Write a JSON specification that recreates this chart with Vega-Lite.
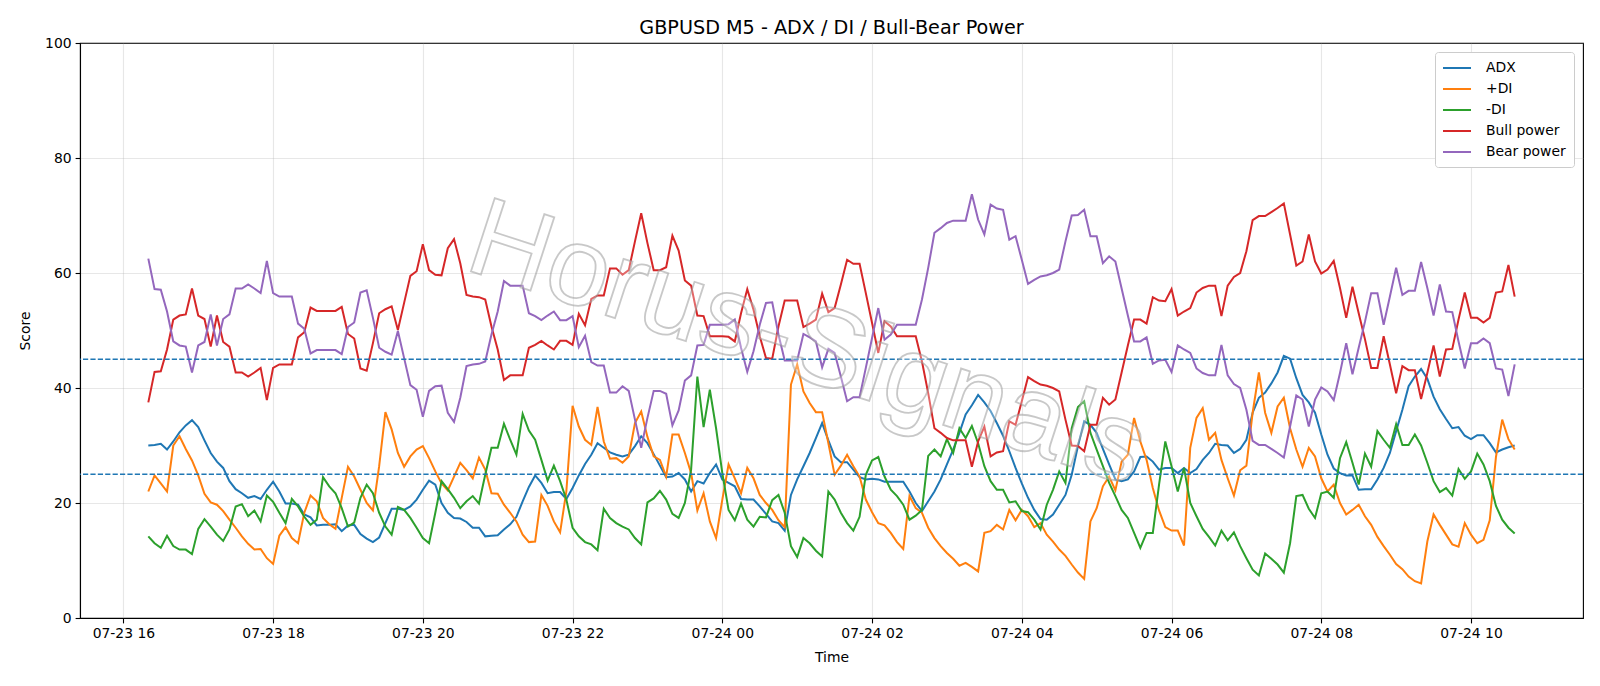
{
  "$schema": "https://vega.github.io/schema/vega-lite/v6.json",
  "width": 1503,
  "height": 575,
  "autosize": {"type": "none"},
  "padding": {"left": 80, "top": 43, "right": 17, "bottom": 68},
  "background": "white",
  "title": {"text": "GBPUSD M5 - ADX / DI / Bull-Bear Power", "font": "DejaVu Sans", "fontSize": 19.2, "fontWeight": "normal", "color": "black", "offset": -2},
  "config": {
    "view": {"stroke": "black", "strokeWidth": 1.1},
    "axis": {"labelFont": "DejaVu Sans", "titleFont": "DejaVu Sans", "labelFontSize": 13.9, "titleFontSize": 13.9, "titleFontWeight": "normal", "labelColor": "black", "titleColor": "black", "tickColor": "black", "domainColor": "black", "tickSize": 4.9, "tickWidth": 1.1, "domainWidth": 1.1, "gridColor": "#b0b0b0", "gridOpacity": 0.3, "gridWidth": 1.1}
  },
  "data": {"format": {"parse": {"t": "utc:'%Y-%m-%dT%H:%M'"}}, "values": [
{"t":"2025-07-23T16:20","ADX":30.0,"PDI":22.0,"MDI":14.2,"Bull":37.5,"Bear":62.5},
{"t":"2025-07-23T16:25","ADX":30.1,"PDI":24.8,"MDI":13.0,"Bull":42.8,"Bear":57.2},
{"t":"2025-07-23T16:30","ADX":30.3,"PDI":23.4,"MDI":12.2,"Bull":42.9,"Bear":57.1},
{"t":"2025-07-23T16:35","ADX":29.3,"PDI":22.0,"MDI":14.3,"Bull":46.7,"Bear":53.3},
{"t":"2025-07-23T16:40","ADX":30.7,"PDI":30.0,"MDI":12.5,"Bull":51.9,"Bear":48.1},
{"t":"2025-07-23T16:45","ADX":32.3,"PDI":31.6,"MDI":11.9,"Bull":52.6,"Bear":47.4},
{"t":"2025-07-23T16:50","ADX":33.5,"PDI":29.4,"MDI":11.9,"Bull":52.8,"Bear":47.2},
{"t":"2025-07-23T16:55","ADX":34.4,"PDI":27.4,"MDI":11.1,"Bull":57.3,"Bear":42.7},
{"t":"2025-07-23T17:00","ADX":33.2,"PDI":24.8,"MDI":15.5,"Bull":52.6,"Bear":47.4},
{"t":"2025-07-23T17:05","ADX":30.9,"PDI":21.6,"MDI":17.2,"Bull":52.0,"Bear":48.0},
{"t":"2025-07-23T17:10","ADX":28.7,"PDI":20.1,"MDI":15.9,"Bull":47.2,"Bear":52.8},
{"t":"2025-07-23T17:15","ADX":27.2,"PDI":19.7,"MDI":14.5,"Bull":52.6,"Bear":47.4},
{"t":"2025-07-23T17:20","ADX":26.1,"PDI":18.6,"MDI":13.4,"Bull":48.0,"Bear":52.0},
{"t":"2025-07-23T17:25","ADX":23.8,"PDI":17.1,"MDI":15.4,"Bull":47.2,"Bear":52.8},
{"t":"2025-07-23T17:30","ADX":22.4,"PDI":15.7,"MDI":19.4,"Bull":42.7,"Bear":57.3},
{"t":"2025-07-23T17:35","ADX":21.7,"PDI":14.2,"MDI":19.8,"Bull":42.7,"Bear":57.3},
{"t":"2025-07-23T17:40","ADX":20.9,"PDI":12.9,"MDI":17.7,"Bull":42.0,"Bear":58.0},
{"t":"2025-07-23T17:45","ADX":21.2,"PDI":11.9,"MDI":18.7,"Bull":42.7,"Bear":57.3},
{"t":"2025-07-23T17:50","ADX":20.7,"PDI":12.0,"MDI":16.8,"Bull":43.5,"Bear":56.5},
{"t":"2025-07-23T17:55","ADX":22.3,"PDI":10.4,"MDI":21.3,"Bull":37.9,"Bear":62.1},
{"t":"2025-07-23T18:00","ADX":23.7,"PDI":9.4,"MDI":20.2,"Bull":43.5,"Bear":56.5},
{"t":"2025-07-23T18:05","ADX":22.0,"PDI":14.3,"MDI":18.3,"Bull":44.1,"Bear":55.9},
{"t":"2025-07-23T18:10","ADX":19.9,"PDI":15.8,"MDI":16.5,"Bull":44.1,"Bear":55.9},
{"t":"2025-07-23T18:15","ADX":19.9,"PDI":13.9,"MDI":20.7,"Bull":44.1,"Bear":55.9},
{"t":"2025-07-23T18:20","ADX":19.7,"PDI":13.0,"MDI":19.4,"Bull":48.8,"Bear":51.2},
{"t":"2025-07-23T18:25","ADX":18.0,"PDI":18.3,"MDI":17.6,"Bull":49.7,"Bear":50.3},
{"t":"2025-07-23T18:30","ADX":17.5,"PDI":21.3,"MDI":16.2,"Bull":54.0,"Bear":46.0},
{"t":"2025-07-23T18:35","ADX":16.1,"PDI":20.3,"MDI":17.1,"Bull":53.4,"Bear":46.6},
{"t":"2025-07-23T18:40","ADX":16.2,"PDI":17.4,"MDI":24.5,"Bull":53.4,"Bear":46.6},
{"t":"2025-07-23T18:45","ADX":16.2,"PDI":16.3,"MDI":22.9,"Bull":53.4,"Bear":46.6},
{"t":"2025-07-23T18:50","ADX":16.3,"PDI":15.5,"MDI":21.7,"Bull":53.4,"Bear":46.6},
{"t":"2025-07-23T18:55","ADX":15.1,"PDI":20.9,"MDI":19.1,"Bull":54.1,"Bear":45.9},
{"t":"2025-07-23T19:00","ADX":16.1,"PDI":26.3,"MDI":15.9,"Bull":49.4,"Bear":50.6},
{"t":"2025-07-23T19:05","ADX":16.2,"PDI":24.6,"MDI":16.6,"Bull":48.6,"Bear":51.4},
{"t":"2025-07-23T19:10","ADX":14.6,"PDI":22.3,"MDI":20.9,"Bull":43.4,"Bear":56.6},
{"t":"2025-07-23T19:15","ADX":13.8,"PDI":20.0,"MDI":23.2,"Bull":43.0,"Bear":57.0},
{"t":"2025-07-23T19:20","ADX":13.2,"PDI":18.7,"MDI":21.7,"Bull":47.8,"Bear":52.2},
{"t":"2025-07-23T19:25","ADX":14.0,"PDI":26.4,"MDI":18.3,"Bull":53.0,"Bear":47.0},
{"t":"2025-07-23T19:30","ADX":16.5,"PDI":35.8,"MDI":15.9,"Bull":53.7,"Bear":46.3},
{"t":"2025-07-23T19:35","ADX":19.0,"PDI":32.8,"MDI":14.5,"Bull":54.2,"Bear":45.8},
{"t":"2025-07-23T19:40","ADX":19.0,"PDI":28.7,"MDI":19.3,"Bull":50.1,"Bear":49.9},
{"t":"2025-07-23T19:45","ADX":18.8,"PDI":26.3,"MDI":18.8,"Bull":54.8,"Bear":45.2},
{"t":"2025-07-23T19:50","ADX":19.4,"PDI":28.1,"MDI":17.4,"Bull":59.5,"Bear":40.5},
{"t":"2025-07-23T19:55","ADX":20.6,"PDI":29.3,"MDI":15.7,"Bull":60.3,"Bear":39.7},
{"t":"2025-07-23T20:00","ADX":22.3,"PDI":29.9,"MDI":13.9,"Bull":65.0,"Bear":35.0},
{"t":"2025-07-23T20:05","ADX":23.9,"PDI":27.8,"MDI":13.0,"Bull":60.5,"Bear":39.5},
{"t":"2025-07-23T20:10","ADX":23.2,"PDI":25.5,"MDI":18.3,"Bull":59.7,"Bear":40.3},
{"t":"2025-07-23T20:15","ADX":20.0,"PDI":23.4,"MDI":23.8,"Bull":59.6,"Bear":40.4},
{"t":"2025-07-23T20:20","ADX":18.3,"PDI":22.2,"MDI":22.4,"Bull":64.3,"Bear":35.7},
{"t":"2025-07-23T20:25","ADX":17.4,"PDI":24.6,"MDI":20.9,"Bull":65.9,"Bear":34.1},
{"t":"2025-07-23T20:30","ADX":17.3,"PDI":27.0,"MDI":19.1,"Bull":61.7,"Bear":38.3},
{"t":"2025-07-23T20:35","ADX":16.7,"PDI":25.7,"MDI":20.3,"Bull":56.2,"Bear":43.8},
{"t":"2025-07-23T20:40","ADX":15.7,"PDI":24.3,"MDI":21.2,"Bull":55.9,"Bear":44.1},
{"t":"2025-07-23T20:45","ADX":15.7,"PDI":27.9,"MDI":19.9,"Bull":55.8,"Bear":44.2},
{"t":"2025-07-23T20:50","ADX":14.2,"PDI":25.8,"MDI":24.9,"Bull":55.4,"Bear":44.6},
{"t":"2025-07-23T20:55","ADX":14.3,"PDI":21.7,"MDI":29.6,"Bull":50.7,"Bear":49.3},
{"t":"2025-07-23T21:00","ADX":14.4,"PDI":21.6,"MDI":29.6,"Bull":46.7,"Bear":53.3},
{"t":"2025-07-23T21:05","ADX":15.4,"PDI":19.7,"MDI":33.8,"Bull":41.4,"Bear":58.6},
{"t":"2025-07-23T21:10","ADX":16.3,"PDI":18.3,"MDI":31.0,"Bull":42.2,"Bear":57.8},
{"t":"2025-07-23T21:15","ADX":17.6,"PDI":16.8,"MDI":28.4,"Bull":42.2,"Bear":57.8},
{"t":"2025-07-23T21:20","ADX":20.3,"PDI":14.5,"MDI":35.5,"Bull":42.2,"Bear":57.8},
{"t":"2025-07-23T21:25","ADX":22.8,"PDI":13.2,"MDI":32.6,"Bull":47.0,"Bear":53.0},
{"t":"2025-07-23T21:30","ADX":24.8,"PDI":13.3,"MDI":31.0,"Bull":47.5,"Bear":52.5},
{"t":"2025-07-23T21:35","ADX":23.5,"PDI":21.4,"MDI":27.5,"Bull":48.2,"Bear":51.8},
{"t":"2025-07-23T21:40","ADX":21.7,"PDI":19.5,"MDI":23.9,"Bull":47.4,"Bear":52.6},
{"t":"2025-07-23T21:45","ADX":21.9,"PDI":16.8,"MDI":26.5,"Bull":46.7,"Bear":53.3},
{"t":"2025-07-23T21:50","ADX":21.9,"PDI":14.9,"MDI":23.8,"Bull":48.2,"Bear":51.8},
{"t":"2025-07-23T21:55","ADX":20.7,"PDI":22.0,"MDI":20.6,"Bull":48.2,"Bear":51.8},
{"t":"2025-07-23T22:00","ADX":22.6,"PDI":36.9,"MDI":15.7,"Bull":47.5,"Bear":52.5},
{"t":"2025-07-23T22:05","ADX":24.8,"PDI":33.3,"MDI":14.2,"Bull":52.9,"Bear":47.1},
{"t":"2025-07-23T22:10","ADX":26.8,"PDI":31.0,"MDI":13.2,"Bull":50.9,"Bear":49.1},
{"t":"2025-07-23T22:15","ADX":28.4,"PDI":30.1,"MDI":12.8,"Bull":55.5,"Bear":44.5},
{"t":"2025-07-23T22:20","ADX":30.4,"PDI":36.7,"MDI":11.8,"Bull":56.1,"Bear":43.9},
{"t":"2025-07-23T22:25","ADX":29.6,"PDI":30.7,"MDI":19.0,"Bull":56.1,"Bear":43.9},
{"t":"2025-07-23T22:30","ADX":28.8,"PDI":27.7,"MDI":17.4,"Bull":60.8,"Bear":39.2},
{"t":"2025-07-23T22:35","ADX":28.4,"PDI":27.8,"MDI":16.5,"Bull":60.8,"Bear":39.2},
{"t":"2025-07-23T22:40","ADX":28.1,"PDI":27.0,"MDI":15.9,"Bull":59.7,"Bear":40.3},
{"t":"2025-07-23T22:45","ADX":28.4,"PDI":28.1,"MDI":15.4,"Bull":60.5,"Bear":39.5},
{"t":"2025-07-23T22:50","ADX":29.9,"PDI":33.9,"MDI":13.9,"Bull":65.5,"Bear":34.5},
{"t":"2025-07-23T22:55","ADX":31.6,"PDI":35.9,"MDI":12.8,"Bull":70.4,"Bear":29.6},
{"t":"2025-07-23T23:00","ADX":30.4,"PDI":31.5,"MDI":20.1,"Bull":65.2,"Bear":34.8},
{"t":"2025-07-23T23:05","ADX":28.5,"PDI":28.1,"MDI":20.8,"Bull":60.5,"Bear":39.5},
{"t":"2025-07-23T23:10","ADX":26.5,"PDI":27.5,"MDI":22.1,"Bull":60.5,"Bear":39.5},
{"t":"2025-07-23T23:15","ADX":24.5,"PDI":24.6,"MDI":20.6,"Bull":61.0,"Bear":39.0},
{"t":"2025-07-23T23:20","ADX":24.6,"PDI":31.9,"MDI":18.1,"Bull":66.5,"Bear":33.5},
{"t":"2025-07-23T23:25","ADX":25.2,"PDI":31.9,"MDI":17.4,"Bull":63.9,"Bear":36.1},
{"t":"2025-07-23T23:30","ADX":24.1,"PDI":28.7,"MDI":20.0,"Bull":58.7,"Bear":41.3},
{"t":"2025-07-23T23:35","ADX":22.0,"PDI":25.2,"MDI":25.8,"Bull":57.8,"Bear":42.2},
{"t":"2025-07-23T23:40","ADX":23.8,"PDI":18.7,"MDI":42.0,"Bull":52.6,"Bear":47.4},
{"t":"2025-07-23T23:45","ADX":23.4,"PDI":21.7,"MDI":33.2,"Bull":52.5,"Bear":47.5},
{"t":"2025-07-23T23:50","ADX":25.2,"PDI":16.8,"MDI":39.7,"Bull":49.0,"Bear":51.0},
{"t":"2025-07-23T23:55","ADX":26.7,"PDI":13.9,"MDI":33.0,"Bull":49.0,"Bear":51.0},
{"t":"2025-07-24T00:00","ADX":24.1,"PDI":20.6,"MDI":25.2,"Bull":49.0,"Bear":51.0},
{"t":"2025-07-24T00:05","ADX":23.5,"PDI":26.7,"MDI":18.8,"Bull":48.9,"Bear":51.1},
{"t":"2025-07-24T00:10","ADX":22.9,"PDI":24.3,"MDI":17.0,"Bull":48.1,"Bear":51.9},
{"t":"2025-07-24T00:15","ADX":20.7,"PDI":21.7,"MDI":19.9,"Bull":53.0,"Bear":47.0},
{"t":"2025-07-24T00:20","ADX":20.6,"PDI":26.1,"MDI":17.1,"Bull":57.2,"Bear":42.8},
{"t":"2025-07-24T00:25","ADX":20.6,"PDI":24.3,"MDI":15.9,"Bull":53.6,"Bear":46.4},
{"t":"2025-07-24T00:30","ADX":19.4,"PDI":21.4,"MDI":17.6,"Bull":49.0,"Bear":51.0},
{"t":"2025-07-24T00:35","ADX":18.1,"PDI":20.0,"MDI":17.5,"Bull":45.2,"Bear":54.8},
{"t":"2025-07-24T00:40","ADX":16.8,"PDI":18.8,"MDI":20.5,"Bull":45.1,"Bear":54.9},
{"t":"2025-07-24T00:45","ADX":16.5,"PDI":17.0,"MDI":21.4,"Bull":50.7,"Bear":49.3},
{"t":"2025-07-24T00:50","ADX":15.2,"PDI":15.8,"MDI":18.3,"Bull":55.2,"Bear":44.8},
{"t":"2025-07-24T00:55","ADX":21.4,"PDI":40.6,"MDI":12.5,"Bull":55.2,"Bear":44.8},
{"t":"2025-07-24T01:00","ADX":24.1,"PDI":44.1,"MDI":10.6,"Bull":55.2,"Bear":44.8},
{"t":"2025-07-24T01:05","ADX":26.4,"PDI":39.4,"MDI":13.9,"Bull":50.6,"Bear":49.4},
{"t":"2025-07-24T01:10","ADX":28.7,"PDI":37.4,"MDI":13.0,"Bull":51.2,"Bear":48.8},
{"t":"2025-07-24T01:15","ADX":31.3,"PDI":35.8,"MDI":11.7,"Bull":51.9,"Bear":48.1},
{"t":"2025-07-24T01:20","ADX":33.9,"PDI":35.8,"MDI":10.7,"Bull":56.4,"Bear":43.6},
{"t":"2025-07-24T01:25","ADX":30.9,"PDI":30.4,"MDI":22.0,"Bull":53.2,"Bear":46.8},
{"t":"2025-07-24T01:30","ADX":28.1,"PDI":24.9,"MDI":20.6,"Bull":53.9,"Bear":46.1},
{"t":"2025-07-24T01:35","ADX":27.1,"PDI":26.5,"MDI":18.3,"Bull":58.0,"Bear":42.0},
{"t":"2025-07-24T01:40","ADX":27.1,"PDI":28.4,"MDI":16.5,"Bull":62.3,"Bear":37.7},
{"t":"2025-07-24T01:45","ADX":25.8,"PDI":26.4,"MDI":15.2,"Bull":61.6,"Bear":38.4},
{"t":"2025-07-24T01:50","ADX":24.5,"PDI":24.6,"MDI":17.6,"Bull":61.6,"Bear":38.4},
{"t":"2025-07-24T01:55","ADX":24.1,"PDI":20.6,"MDI":24.9,"Bull":56.5,"Bear":43.5},
{"t":"2025-07-24T02:00","ADX":24.2,"PDI":18.4,"MDI":27.4,"Bull":51.3,"Bear":48.7},
{"t":"2025-07-24T02:05","ADX":24.1,"PDI":16.5,"MDI":28.0,"Bull":46.1,"Bear":53.9},
{"t":"2025-07-24T02:10","ADX":23.7,"PDI":16.1,"MDI":24.6,"Bull":51.6,"Bear":48.4},
{"t":"2025-07-24T02:15","ADX":23.7,"PDI":14.8,"MDI":22.3,"Bull":50.7,"Bear":49.3},
{"t":"2025-07-24T02:20","ADX":23.7,"PDI":13.2,"MDI":21.2,"Bull":49.0,"Bear":51.0},
{"t":"2025-07-24T02:25","ADX":23.7,"PDI":12.0,"MDI":19.7,"Bull":49.0,"Bear":51.0},
{"t":"2025-07-24T02:30","ADX":22.0,"PDI":21.2,"MDI":17.1,"Bull":49.0,"Bear":51.0},
{"t":"2025-07-24T02:35","ADX":20.0,"PDI":19.1,"MDI":17.8,"Bull":49.0,"Bear":51.0},
{"t":"2025-07-24T02:40","ADX":18.6,"PDI":18.3,"MDI":18.8,"Bull":44.6,"Bear":55.4},
{"t":"2025-07-24T02:45","ADX":20.3,"PDI":15.7,"MDI":28.2,"Bull":39.1,"Bear":60.9},
{"t":"2025-07-24T02:50","ADX":22.0,"PDI":13.9,"MDI":29.3,"Bull":33.0,"Bear":67.0},
{"t":"2025-07-24T02:55","ADX":24.1,"PDI":12.5,"MDI":28.1,"Bull":32.2,"Bear":67.8},
{"t":"2025-07-24T03:00","ADX":26.7,"PDI":11.3,"MDI":31.1,"Bull":31.3,"Bear":68.7},
{"t":"2025-07-24T03:05","ADX":29.3,"PDI":10.3,"MDI":28.7,"Bull":30.9,"Bear":69.1},
{"t":"2025-07-24T03:10","ADX":32.2,"PDI":9.1,"MDI":33.0,"Bull":30.9,"Bear":69.1},
{"t":"2025-07-24T03:15","ADX":35.4,"PDI":9.6,"MDI":31.3,"Bull":30.9,"Bear":69.1},
{"t":"2025-07-24T03:20","ADX":37.0,"PDI":8.9,"MDI":33.4,"Bull":26.3,"Bear":73.7},
{"t":"2025-07-24T03:25","ADX":38.8,"PDI":8.1,"MDI":30.4,"Bull":30.7,"Bear":69.3},
{"t":"2025-07-24T03:30","ADX":37.5,"PDI":14.8,"MDI":26.4,"Bull":33.3,"Bear":66.7},
{"t":"2025-07-24T03:35","ADX":36.0,"PDI":15.1,"MDI":23.8,"Bull":28.1,"Bear":71.9},
{"t":"2025-07-24T03:40","ADX":33.9,"PDI":16.2,"MDI":22.3,"Bull":28.8,"Bear":71.2},
{"t":"2025-07-24T03:45","ADX":31.7,"PDI":15.4,"MDI":22.3,"Bull":29.0,"Bear":71.0},
{"t":"2025-07-24T03:50","ADX":29.0,"PDI":18.8,"MDI":20.1,"Bull":34.2,"Bear":65.8},
{"t":"2025-07-24T03:55","ADX":26.1,"PDI":17.0,"MDI":20.3,"Bull":33.6,"Bear":66.4},
{"t":"2025-07-24T04:00","ADX":23.4,"PDI":18.8,"MDI":18.6,"Bull":37.7,"Bear":62.3},
{"t":"2025-07-24T04:05","ADX":20.9,"PDI":17.7,"MDI":18.4,"Bull":41.9,"Bear":58.1},
{"t":"2025-07-24T04:10","ADX":18.8,"PDI":15.8,"MDI":17.1,"Bull":41.2,"Bear":58.8},
{"t":"2025-07-24T04:15","ADX":17.2,"PDI":16.5,"MDI":15.4,"Bull":40.6,"Bear":59.4},
{"t":"2025-07-24T04:20","ADX":17.1,"PDI":14.5,"MDI":19.7,"Bull":40.4,"Bear":59.6},
{"t":"2025-07-24T04:25","ADX":18.0,"PDI":13.3,"MDI":22.3,"Bull":40.0,"Bear":60.0},
{"t":"2025-07-24T04:30","ADX":19.7,"PDI":11.9,"MDI":25.5,"Bull":39.4,"Bear":60.6},
{"t":"2025-07-24T04:35","ADX":21.4,"PDI":10.8,"MDI":23.5,"Bull":34.5,"Bear":65.5},
{"t":"2025-07-24T04:40","ADX":24.9,"PDI":9.3,"MDI":33.0,"Bull":30.0,"Bear":70.0},
{"t":"2025-07-24T04:45","ADX":29.9,"PDI":7.9,"MDI":36.7,"Bull":29.9,"Bear":70.1},
{"t":"2025-07-24T04:50","ADX":34.2,"PDI":6.8,"MDI":37.7,"Bull":29.0,"Bear":71.0},
{"t":"2025-07-24T04:55","ADX":33.6,"PDI":16.8,"MDI":32.2,"Bull":33.6,"Bear":66.4},
{"t":"2025-07-24T05:00","ADX":32.2,"PDI":19.1,"MDI":29.3,"Bull":33.6,"Bear":66.4},
{"t":"2025-07-24T05:05","ADX":29.4,"PDI":22.9,"MDI":26.4,"Bull":38.3,"Bear":61.7},
{"t":"2025-07-24T05:10","ADX":26.7,"PDI":24.6,"MDI":23.5,"Bull":37.1,"Bear":62.9},
{"t":"2025-07-24T05:15","ADX":24.1,"PDI":22.2,"MDI":21.2,"Bull":38.0,"Bear":62.0},
{"t":"2025-07-24T05:20","ADX":23.8,"PDI":27.2,"MDI":18.8,"Bull":42.7,"Bear":57.3},
{"t":"2025-07-24T05:25","ADX":24.1,"PDI":28.4,"MDI":17.4,"Bull":47.4,"Bear":52.6},
{"t":"2025-07-24T05:30","ADX":25.5,"PDI":34.8,"MDI":14.8,"Bull":51.9,"Bear":48.1},
{"t":"2025-07-24T05:35","ADX":28.0,"PDI":30.7,"MDI":12.2,"Bull":51.9,"Bear":48.1},
{"t":"2025-07-24T05:40","ADX":28.1,"PDI":27.5,"MDI":14.8,"Bull":51.2,"Bear":48.8},
{"t":"2025-07-24T05:45","ADX":27.2,"PDI":22.6,"MDI":14.8,"Bull":55.8,"Bear":44.2},
{"t":"2025-07-24T05:50","ADX":25.8,"PDI":18.7,"MDI":23.2,"Bull":55.2,"Bear":44.8},
{"t":"2025-07-24T05:55","ADX":26.1,"PDI":15.8,"MDI":30.7,"Bull":55.1,"Bear":44.9},
{"t":"2025-07-24T06:00","ADX":26.1,"PDI":15.2,"MDI":26.4,"Bull":57.2,"Bear":42.8},
{"t":"2025-07-24T06:05","ADX":25.2,"PDI":15.2,"MDI":22.0,"Bull":52.6,"Bear":47.4},
{"t":"2025-07-24T06:10","ADX":26.1,"PDI":12.6,"MDI":26.1,"Bull":53.3,"Bear":46.7},
{"t":"2025-07-24T06:15","ADX":25.2,"PDI":29.6,"MDI":20.0,"Bull":53.9,"Bear":46.1},
{"t":"2025-07-24T06:20","ADX":25.9,"PDI":34.8,"MDI":17.7,"Bull":56.6,"Bear":43.4},
{"t":"2025-07-24T06:25","ADX":27.5,"PDI":36.5,"MDI":15.5,"Bull":57.4,"Bear":42.6},
{"t":"2025-07-24T06:30","ADX":28.7,"PDI":31.0,"MDI":14.1,"Bull":57.8,"Bear":42.2},
{"t":"2025-07-24T06:35","ADX":30.3,"PDI":32.2,"MDI":12.6,"Bull":57.8,"Bear":42.2},
{"t":"2025-07-24T06:40","ADX":30.1,"PDI":27.5,"MDI":15.2,"Bull":52.5,"Bear":47.5},
{"t":"2025-07-24T06:45","ADX":30.0,"PDI":24.3,"MDI":13.5,"Bull":57.8,"Bear":42.2},
{"t":"2025-07-24T06:50","ADX":28.7,"PDI":21.3,"MDI":14.9,"Bull":59.3,"Bear":40.7},
{"t":"2025-07-24T06:55","ADX":29.4,"PDI":25.7,"MDI":12.5,"Bull":60.0,"Bear":40.0},
{"t":"2025-07-24T07:00","ADX":31.0,"PDI":26.5,"MDI":10.4,"Bull":63.8,"Bear":36.2},
{"t":"2025-07-24T07:05","ADX":35.7,"PDI":35.7,"MDI":8.4,"Bull":69.2,"Bear":30.8},
{"t":"2025-07-24T07:10","ADX":38.3,"PDI":42.7,"MDI":7.4,"Bull":69.9,"Bear":30.1},
{"t":"2025-07-24T07:15","ADX":39.2,"PDI":35.7,"MDI":11.2,"Bull":69.9,"Bear":30.1},
{"t":"2025-07-24T07:20","ADX":40.8,"PDI":32.2,"MDI":10.3,"Bull":70.6,"Bear":29.4},
{"t":"2025-07-24T07:25","ADX":42.7,"PDI":36.8,"MDI":9.3,"Bull":71.3,"Bear":28.7},
{"t":"2025-07-24T07:30","ADX":45.6,"PDI":38.3,"MDI":7.9,"Bull":72.1,"Bear":27.9},
{"t":"2025-07-24T07:35","ADX":45.1,"PDI":33.0,"MDI":13.0,"Bull":66.7,"Bear":33.3},
{"t":"2025-07-24T07:40","ADX":41.7,"PDI":29.3,"MDI":21.2,"Bull":61.3,"Bear":38.7},
{"t":"2025-07-24T07:45","ADX":38.8,"PDI":26.3,"MDI":21.4,"Bull":62.0,"Bear":38.0},
{"t":"2025-07-24T07:50","ADX":37.5,"PDI":29.6,"MDI":19.0,"Bull":66.7,"Bear":33.3},
{"t":"2025-07-24T07:55","ADX":35.7,"PDI":28.1,"MDI":17.4,"Bull":62.0,"Bear":38.0},
{"t":"2025-07-24T08:00","ADX":31.9,"PDI":24.3,"MDI":21.7,"Bull":59.9,"Bear":40.1},
{"t":"2025-07-24T08:05","ADX":28.4,"PDI":22.0,"MDI":22.0,"Bull":60.6,"Bear":39.4},
{"t":"2025-07-24T08:10","ADX":26.0,"PDI":23.2,"MDI":20.9,"Bull":62.1,"Bear":37.9},
{"t":"2025-07-24T08:15","ADX":25.2,"PDI":20.0,"MDI":27.8,"Bull":57.4,"Bear":42.6},
{"t":"2025-07-24T08:20","ADX":24.8,"PDI":18.0,"MDI":30.6,"Bull":52.2,"Bear":47.8},
{"t":"2025-07-24T08:25","ADX":24.8,"PDI":18.8,"MDI":27.0,"Bull":57.6,"Bear":42.4},
{"t":"2025-07-24T08:30","ADX":22.3,"PDI":19.7,"MDI":23.2,"Bull":53.0,"Bear":47.0},
{"t":"2025-07-24T08:35","ADX":22.4,"PDI":17.7,"MDI":28.6,"Bull":48.5,"Bear":51.5},
{"t":"2025-07-24T08:40","ADX":22.4,"PDI":16.2,"MDI":26.3,"Bull":43.5,"Bear":56.5},
{"t":"2025-07-24T08:45","ADX":24.1,"PDI":14.1,"MDI":32.5,"Bull":43.5,"Bear":56.5},
{"t":"2025-07-24T08:50","ADX":26.1,"PDI":12.5,"MDI":31.0,"Bull":49.0,"Bear":51.0},
{"t":"2025-07-24T08:55","ADX":28.7,"PDI":11.0,"MDI":29.6,"Bull":44.1,"Bear":55.9},
{"t":"2025-07-24T09:00","ADX":32.5,"PDI":9.4,"MDI":33.7,"Bull":39.1,"Bear":60.9},
{"t":"2025-07-24T09:05","ADX":36.2,"PDI":8.5,"MDI":30.1,"Bull":43.8,"Bear":56.2},
{"t":"2025-07-24T09:10","ADX":40.3,"PDI":7.2,"MDI":30.1,"Bull":43.1,"Bear":56.9},
{"t":"2025-07-24T09:15","ADX":42.0,"PDI":6.4,"MDI":31.9,"Bull":43.1,"Bear":56.9},
{"t":"2025-07-24T09:20","ADX":43.3,"PDI":6.0,"MDI":30.0,"Bull":38.1,"Bear":61.9},
{"t":"2025-07-24T09:25","ADX":41.6,"PDI":13.3,"MDI":27.0,"Bull":42.6,"Bear":57.4},
{"t":"2025-07-24T09:30","ADX":38.5,"PDI":18.0,"MDI":23.8,"Bull":47.4,"Bear":52.6},
{"t":"2025-07-24T09:35","ADX":36.3,"PDI":16.2,"MDI":21.9,"Bull":42.0,"Bear":58.0},
{"t":"2025-07-24T09:40","ADX":34.6,"PDI":14.5,"MDI":22.6,"Bull":46.7,"Bear":53.3},
{"t":"2025-07-24T09:45","ADX":33.0,"PDI":12.8,"MDI":21.3,"Bull":46.8,"Bear":53.2},
{"t":"2025-07-24T09:50","ADX":33.2,"PDI":12.4,"MDI":25.9,"Bull":51.9,"Bear":48.1},
{"t":"2025-07-24T09:55","ADX":31.7,"PDI":16.5,"MDI":24.2,"Bull":56.6,"Bear":43.4},
{"t":"2025-07-24T10:00","ADX":31.1,"PDI":14.5,"MDI":25.5,"Bull":52.2,"Bear":47.8},
{"t":"2025-07-24T10:05","ADX":31.8,"PDI":13.0,"MDI":28.6,"Bull":52.2,"Bear":47.8},
{"t":"2025-07-24T10:10","ADX":31.8,"PDI":13.6,"MDI":26.7,"Bull":51.4,"Bear":48.6},
{"t":"2025-07-24T10:15","ADX":30.4,"PDI":17.0,"MDI":23.8,"Bull":52.2,"Bear":47.8},
{"t":"2025-07-24T10:20","ADX":28.8,"PDI":28.0,"MDI":19.5,"Bull":56.6,"Bear":43.4},
{"t":"2025-07-24T10:25","ADX":29.3,"PDI":34.5,"MDI":17.1,"Bull":56.8,"Bear":43.2},
{"t":"2025-07-24T10:30","ADX":29.7,"PDI":31.1,"MDI":15.7,"Bull":61.4,"Bear":38.6},
{"t":"2025-07-24T10:35","ADX":30.0,"PDI":29.3,"MDI":14.7,"Bull":55.9,"Bear":44.1}
  ]},
  "layer": [
    {
      "transform": [{"fold": ["ADX", "PDI", "MDI", "Bull", "Bear"], "as": ["series", "value"]}],
      "mark": {"type": "line", "strokeWidth": 2},
      "encoding": {
        "x": {"field": "t", "type": "temporal", "title": "Time",
              "scale": {"type": "utc", "domain": [1753284315000, 1753356585000]},
              "axis": {"format": "%m-%d %H", "values": [1753286400000, 1753293600000, 1753300800000, 1753308000000, 1753315200000, 1753322400000, 1753329600000, 1753336800000, 1753344000000, 1753351200000], "labelAngle": 0, "labelOverlap": false, "labelFlush": false, "labelPadding": 4, "titlePadding": 10, "grid": true}},
        "y": {"field": "value", "type": "quantitative", "title": "Score",
              "scale": {"domain": [0, 100], "nice": false},
              "axis": {"values": [0, 20, 40, 60, 80, 100], "labelPadding": 4, "titlePadding": 12, "grid": true}},
        "color": {"field": "series", "type": "nominal",
                  "scale": {"domain": ["ADX", "PDI", "MDI", "Bull", "Bear"], "range": ["#1f77b4", "#ff7f0e", "#2ca02c", "#d62728", "#9467bd"]},
                  "legend": {"orient": "top-right", "offset": 9, "title": null, "symbolType": "M-2,0H2", "symbolSize": 196, "symbolStrokeWidth": 2, "symbolOffset": 6, "labelFont": "DejaVu Sans", "labelFontSize": 13.9, "labelColor": "black", "labelOffset": 21, "rowPadding": 6, "padding": 8, "strokeColor": "#cccccc", "fillColor": "white", "cornerRadius": 3,
                             "labelExpr": "({'ADX': 'ADX', 'PDI': '+DI', 'MDI': '-DI', 'Bull': 'Bull power', 'Bear': 'Bear power'})[datum.label] + '    '"}}
      }
    },
    {
      "data": {"values": [{"level": 25}, {"level": 45}]},
      "mark": {"type": "rule", "color": "#1f77b4", "strokeDash": [5.2, 2.2], "strokeWidth": 1.4},
      "encoding": {"y": {"field": "level", "type": "quantitative", "title": "Score"}}
    },
    {
      "data": {"values": [{"label": "Horus-Signals"}]},
      "mark": {"type": "text", "font": "Liberation Sans", "fontSize": 112, "angle": 18, "align": "center", "baseline": "middle", "fill": "white", "fillOpacity": 0.3, "stroke": "#9a9a9a", "strokeWidth": 1.8, "strokeOpacity": 0.55},
      "encoding": {
        "x": {"datum": 1753319280000, "type": "temporal"},
        "y": {"datum": 47.5, "type": "quantitative"},
        "text": {"field": "label"}
      }
    }
  ]
}
